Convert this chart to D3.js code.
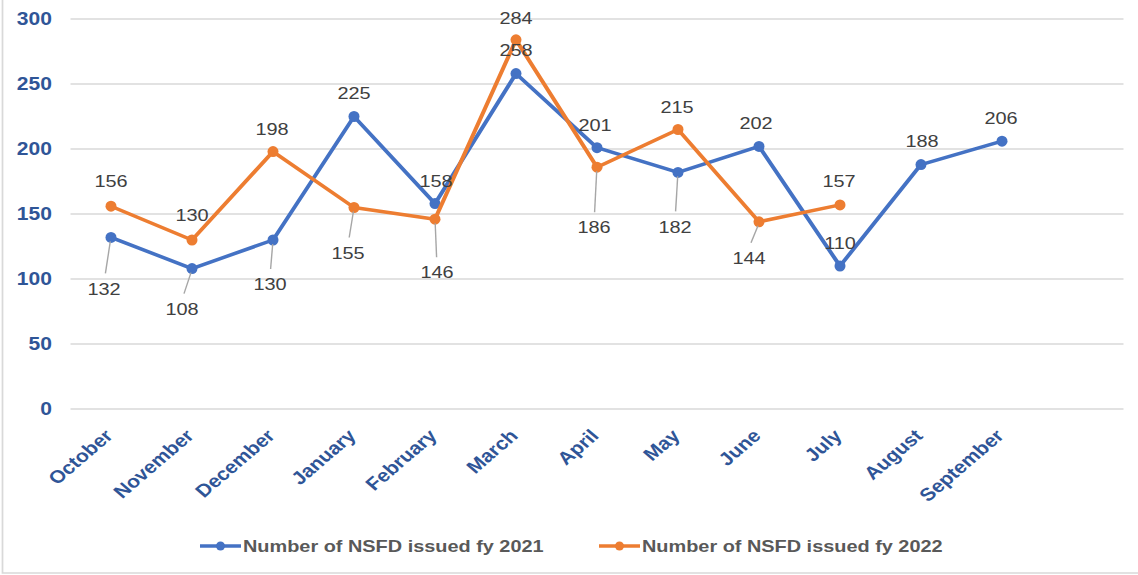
<!DOCTYPE html>
<html>
<head>
<meta charset="utf-8">
<script src="https://cdn.jsdelivr.net/npm/d3@7"></script>
<style>
  html, body { margin: 0; padding: 0; background: #fff; }
  svg { display: block; }
</style>
</head>
<body>
<div id="chart"></div>
<script>
// Data
const months = ["October", "November", "December", "January", "February", "March",
  "April", "May", "June", "July", "August", "September"];
const fy2021 = [132, 108, 130, 225, 158, 258, 201, 182, 202, 110, 188, 206];
const fy2022 = [156, 130, 198, 155, 146, 284, 186, 215, 144, 157];
const yTicks = [0, 50, 100, 150, 200, 250, 300];
const seriesNames = ["Number of NSFD issued fy 2021", "Number of NSFD issued fy 2022"];

// Label placement (pixel offsets of the label centre from its point)
const labelOffsets2021 = [[-7, 51], [-10, 40], [-3, 44], [0, -24], [1, -23], [0, -24],
  [-2, -23], [-3, 54], [-3, -24], [0, -23], [1, -24], [-1, -23]];
const labelOffsets2022 = [[0, -25], [0, -25], [-1, -23], [-6, 45], [2, 53], [0, -22],
  [-3, 60], [-1, -23], [-10, 36], [-1, -24]];

const width = 1138, height = 575;
// the source picture is stretched sideways, so draw in a narrower viewBox
const SX = 1.17;
const px = v => v / SX;

const blue = "#4472C4", orange = "#ED7D31";
const axisBlue = "#2F5597";
const FONT = "'Liberation Sans', Arial, sans-serif";

const svg = d3.select("#chart")
  .append("svg")
  .attr("width", width)
  .attr("height", height)
  .attr("viewBox", `0 0 ${px(width)} ${height}`)
  .attr("preserveAspectRatio", "none");

// Faint frame on the left and bottom
svg.append("path")
  .attr("d", `M${px(2.5)},0 V573 H${px(width)}`)
  .attr("fill", "none")
  .attr("stroke", "#D9D9D9")
  .attr("stroke-width", 1.5);

// Scales (13 slots, the last one is left empty)
const x = d3.scaleBand()
  .domain([...months, ""])
  .range([px(70.5), px(1123.5)])
  .padding(0);
const cx = m => x(m) + x.bandwidth() / 2;

const y = d3.scaleLinear()
  .domain([0, 300])
  .range([409, 19]);

// Gridlines
svg.append("g")
  .selectAll("line")
  .data(yTicks)
  .enter()
  .append("line")
  .attr("x1", px(70.5))
  .attr("x2", px(1123.5))
  .attr("y1", d => y(d))
  .attr("y2", d => y(d))
  .attr("stroke", "#D9D9D9")
  .attr("stroke-width", 1.5);

// Y axis labels
svg.append("g")
  .selectAll("text")
  .data(yTicks)
  .enter()
  .append("text")
  .attr("x", px(52))
  .attr("y", d => y(d))
  .attr("dy", "0.36em")
  .attr("text-anchor", "end")
  .style("font-family", FONT)
  .style("font-size", "18px")
  .style("font-weight", "bold")
  .style("fill", axisBlue)
  .text(d => d);

// X axis labels, rotated
svg.append("g")
  .selectAll("text")
  .data(months)
  .enter()
  .append("text")
  .attr("transform", d => `translate(${cx(d) + px(3)},437) rotate(-45)`)
  .attr("text-anchor", "end")
  .style("font-family", FONT)
  .style("font-size", "18px")
  .style("font-weight", "bold")
  .style("fill", axisBlue)
  .text(d => d);

const line = d3.line()
  .x(d => cx(d.month))
  .y(d => y(d.value));

function drawSeries(values, color, offsets) {
  const pts = values.map((v, i) => ({ month: months[i], value: v, off: offsets[i] }));
  const g = svg.append("g");

  g.append("path")
    .datum(pts)
    .attr("d", line)
    .attr("fill", "none")
    .attr("stroke", color)
    .attr("stroke-width", 3.5)
    .attr("stroke-linejoin", "round");

  g.selectAll("ellipse")
    .data(pts)
    .enter()
    .append("ellipse")
    .attr("cx", d => cx(d.month))
    .attr("cy", d => y(d.value))
    .attr("rx", px(5.5))
    .attr("ry", 5.5)
    .attr("fill", color);

  return pts;
}

function drawLabels(pts) {
  const g = svg.append("g");
  // leader lines for labels pushed away from their point
  g.selectAll("line")
    .data(pts.filter(d => d.off[1] > 30))
    .enter()
    .append("line")
    .attr("x1", d => cx(d.month) + px(d.off[0] * 0.1))
    .attr("y1", d => y(d.value) + 4)
    .attr("x2", d => cx(d.month) + px(d.off[0] * 0.8))
    .attr("y2", d => y(d.value) + d.off[1] - 15)
    .attr("stroke", "#A6A6A6")
    .attr("stroke-width", 1.2);

  g.selectAll("text")
    .data(pts)
    .enter()
    .append("text")
    .attr("x", d => cx(d.month) + px(d.off[0]))
    .attr("y", d => y(d.value) + d.off[1])
    .attr("dy", "0.36em")
    .attr("text-anchor", "middle")
    .style("font-family", FONT)
    .style("font-size", "17px")
    .style("fill", "#404040")
    .text(d => d.value);
}

const pts2021 = drawSeries(fy2021, blue, labelOffsets2021);
const pts2022 = drawSeries(fy2022, orange, labelOffsets2022);
drawLabels(pts2021);
drawLabels(pts2022);

// Legend
const legendItems = [
  { name: seriesNames[0], color: blue, x0: 200 },
  { name: seriesNames[1], color: orange, x0: 599 }
];
const legend = svg.append("g")
  .selectAll("g")
  .data(legendItems)
  .enter()
  .append("g");

legend.append("line")
  .attr("x1", d => px(d.x0))
  .attr("x2", d => px(d.x0 + 41))
  .attr("y1", 546)
  .attr("y2", 546)
  .attr("stroke", d => d.color)
  .attr("stroke-width", 3.5);

legend.append("ellipse")
  .attr("cx", d => px(d.x0 + 20.5))
  .attr("cy", 546)
  .attr("rx", px(4.5))
  .attr("ry", 4.5)
  .attr("fill", d => d.color);

legend.append("text")
  .attr("x", d => px(d.x0 + 43))
  .attr("y", 546)
  .attr("dy", "0.36em")
  .style("font-family", FONT)
  .style("font-size", "17px")
  .style("font-weight", "bold")
  .style("fill", "#595959")
  .text(d => d.name);
</script>
</body>
</html>
